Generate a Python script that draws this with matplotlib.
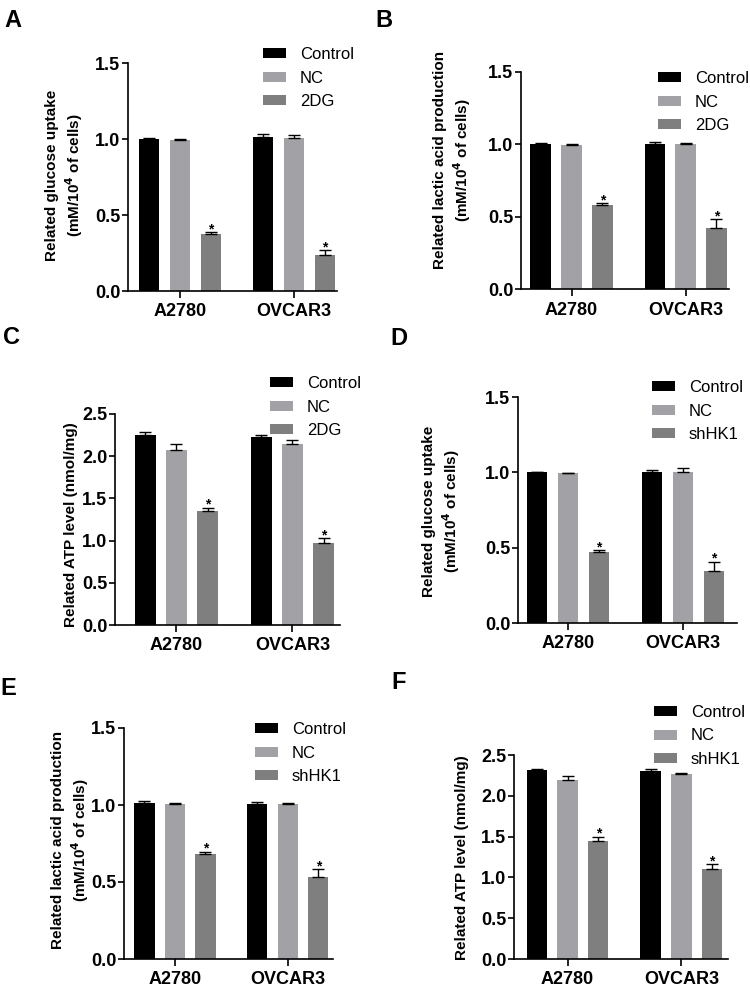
import matplotlib
matplotlib.use("Agg")
import matplotlib.pyplot as plt
import numpy as np

plt.rcParams["font.family"] = ["Liberation Sans", "DejaVu Sans"]

groups = ["A2780", "OVCAR3"]
legend_2dg = ["Control", "NC", "2DG"]
legend_sh = ["Control", "NC", "shHK1"]
colors = ["#000000", "#a2a2a6", "#7f7f7f"]

# rows = Control, NC, treatment; columns = A2780, OVCAR3
a_vals = [[1.00, 1.012], [0.995, 1.007], [0.375, 0.234]]
a_err = [[0.006, 0.02], [0.005, 0.019], [0.011, 0.035]]
b_vals = [[1.003, 1.004], [0.997, 1.0], [0.579, 0.425]]
b_err = [[0.009, 0.014], [0.003, 0.009], [0.014, 0.057]]
c_vals = [[2.247, 2.227], [2.077, 2.144], [1.345, 0.977]]
c_err = [[0.035, 0.028], [0.067, 0.043], [0.047, 0.055]]
d_vals = [[0.999, 1.0], [0.993, 1.004], [0.47, 0.346]]
d_err = [[0.006, 0.017], [0.004, 0.024], [0.015, 0.062]]
e_vals = [[1.012, 1.008], [1.004, 1.006], [0.683, 0.531]]
e_err = [[0.013, 0.009], [0.007, 0.007], [0.015, 0.054]]
f_vals = [[2.316, 2.308], [2.19, 2.268], [1.448, 1.101]]
f_err = [[0.008, 0.016], [0.057, 0.016], [0.053, 0.065]]

W, H = 750, 991
fig = plt.figure(figsize=(W / 100, H / 100), dpi=100)

def px_axes(x0, y0, x1, y1):
    return fig.add_axes([x0 / W, 1 - y1 / H, (x1 - x0) / W, (y1 - y0) / H])

panels = [
    # letter, data, err, legend, ymax, axes box, xlim, ylabel, label xy, legend xy, letter xy
    ("A", a_vals, a_err, legend_2dg, 1.5, (128, 63, 337, 291), (-0.456, 1.377),
     "Related glucose uptake\n(mM/10$^\\mathbf{4}$ of cells)", (65, 175), (263, 53), (4, 9)),
    ("B", b_vals, b_err, legend_2dg, 1.5, (521, 72, 729, 289), (-0.443, 1.38),
     "Related lactic acid production\n(mM/10$^\\mathbf{4}$ of cells)", (453, 160), (658, 77), (375, 9)),
    ("C", c_vals, c_err, legend_2dg, 2.5, (115, 414, 340, 625), (-0.53, 1.41),
     "Related ATP level (nmol/mg)", (71, 525), (270, 382), (3, 326)),
    ("D", d_vals, d_err, legend_sh, 1.5, (518, 397, 737, 623), (-0.435, 1.47),
     "Related glucose uptake\n(mM/10$^\\mathbf{4}$ of cells)", (442, 511), (652, 386), (390, 327)),
    ("E", e_vals, e_err, legend_sh, 1.5, (124, 728, 333, 959), (-0.45, 1.40),
     "Related lactic acid production\n(mM/10$^\\mathbf{4}$ of cells)", (71, 840), (255, 728), (0, 677)),
    ("F", f_vals, f_err, legend_sh, 2.5, (514, 755, 728, 959), (-0.47, 1.41),
     "Related ATP level (nmol/mg)", (462, 858), (654, 711), (391, 671)),
]

x = np.arange(len(groups))
offsets = [-0.27, 0.0, 0.27]
bw = 0.18

for letter, vals, errs, labels, ymax, box, xlim, ylabel, lxy, legxy, letxy in panels:
    ax = px_axes(*box)
    for i in range(3):
        ax.bar(x + offsets[i], vals[i], bw, color=colors[i], label=labels[i], zorder=2)
        ax.errorbar(x + offsets[i], vals[i], yerr=[np.zeros(2), errs[i]], fmt="none",
                    ecolor="black", elinewidth=1, capsize=4, capthick=1, zorder=3)
    for j in range(2):
        top = vals[2][j] + errs[2][j]
        ax.annotate("*", (x[j] + offsets[2], top), xytext=(0, -3), textcoords="offset points",
                    ha="center", va="bottom", fontsize=10, fontweight="bold")
    ax.set_xlim(*xlim)
    ax.set_ylim(0, ymax)
    ax.set_yticks(np.arange(0, ymax + 0.01, 0.5))
    ax.set_yticklabels([f"{t:.1f}" for t in np.arange(0, ymax + 0.01, 0.5)])
    ax.set_xticks(x)
    ax.set_xticklabels(groups)
    for s in ["top", "right"]:
        ax.spines[s].set_visible(False)
    for s in ["left", "bottom"]:
        ax.spines[s].set_linewidth(1.2)
    ax.tick_params(axis="y", length=4.5, width=1.2, labelsize=13, pad=1)
    ax.tick_params(axis="x", length=5, width=1.2, labelsize=13, pad=4)
    for t in ax.get_xticklabels() + ax.get_yticklabels():
        t.set_fontweight("bold")
    fig.text(lxy[0] / W, 1 - lxy[1] / H, ylabel, rotation=90, ha="center", va="center",
             multialignment="center", fontsize=11, fontweight="bold", linespacing=1.25)
    ax.legend(loc="center left", bbox_to_anchor=(legxy[0] / W, 1 - (legxy[1] + 25) / H),
              bbox_transform=fig.transFigure, frameon=False, fontsize=12, borderpad=0,
              borderaxespad=0, handlelength=1.35, handleheight=0.55, handletextpad=0.85,
              labelspacing=0.5)
    fig.text(letxy[0] / W, 1 - letxy[1] / H, letter, ha="left", va="top",
             fontsize=17, fontweight="bold")

fig.savefig("out.png", dpi=100)
